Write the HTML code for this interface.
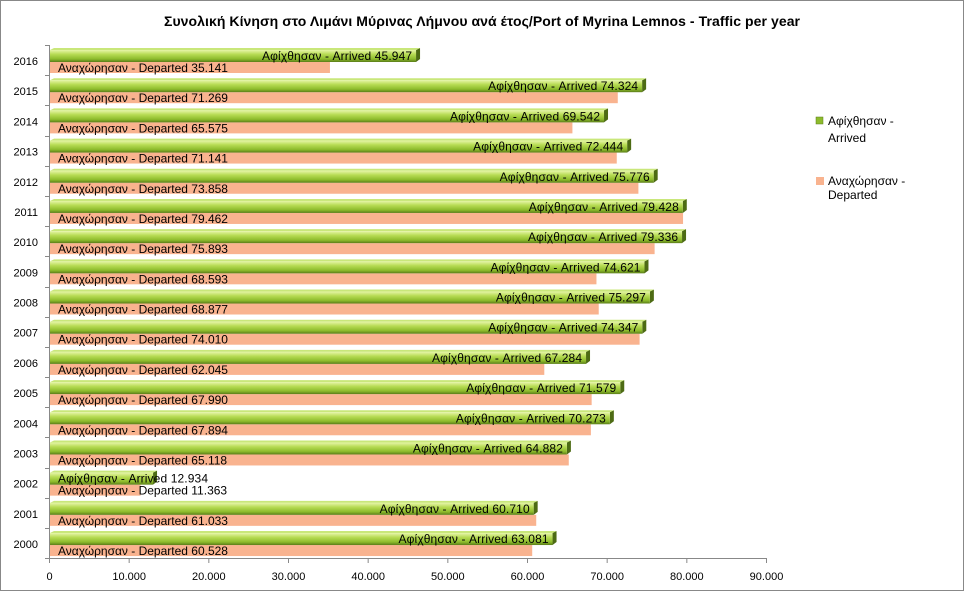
<!DOCTYPE html>
<html><head><meta charset="utf-8"><style>
body{margin:0;background:#fff;}
svg{display:block;font-family:"Liberation Sans","DejaVu Sans",sans-serif;}
</style></head><body>
<svg width="966" height="593" viewBox="0 0 966 593" xmlns="http://www.w3.org/2000/svg">
<defs>
<linearGradient id="g" x1="0" y1="0" x2="0" y2="1">
<stop offset="0" stop-color="#e6f5a8"/><stop offset="0.35" stop-color="#b8dc55"/><stop offset="0.75" stop-color="#8dbb2c"/><stop offset="1" stop-color="#5a7d18"/>
</linearGradient>
</defs>
<rect x="0.5" y="0.5" width="963" height="590" fill="#fff" stroke="#888"/>
<text x="482" y="26" text-anchor="middle" font-size="14" font-weight="bold" fill="#000" textLength="636">Συνολική Κίνηση στο Λιμάνι Μύρινας Λήμνου ανά έτος/Port of Myrina Lemnos - Traffic per year</text>
<g id="bars"></g>
<line x1="49.5" y1="45" x2="49.5" y2="563" stroke="#888"/>
<line x1="45" y1="558.5" x2="766" y2="558.5" stroke="#888"/>
<g id="ticks" font-size="11" fill="#000" text-anchor="middle"></g>
<rect x="816" y="117" width="7" height="7" fill="#8dbb2c" stroke="#5a7d18" stroke-width="0.5"/>
<text x="828" y="125" font-size="12">Αφίχθησαν -</text>
<text x="828" y="142" font-size="12">Arrived</text>
<rect x="816" y="177" width="8" height="8" fill="#f9b38f"/>
<text x="828" y="185" font-size="12">Αναχώρησαν -</text>
<text x="828" y="199" font-size="12">Departed</text>
</svg>
<script>
var data=[[2016,45947,35141],[2015,74324,71269],[2014,69542,65575],[2013,72444,71141],[2012,75776,73858],[2011,79428,79462],[2010,79336,75893],[2009,74621,68593],[2008,75297,68877],[2007,74347,74010],[2006,67284,62045],[2005,71579,67990],[2004,70273,67894],[2003,64882,65118],[2002,12934,11363],[2001,60710,61033],[2000,63081,60528]];
var s=717/90000,x0=50;
function fmt(v){var t=String(v);return t.length>3?t.slice(0,-3)+"."+t.slice(-3):t;}
var h="";
data.forEach(function(d,i){
 var top=45+i*30.19;
 var wa=d[1]*s,wd=d[2]*s;
 h+='<rect x="'+x0+'" y="'+(top+17)+'" width="'+wd+'" height="11" fill="#f9b38f"/>';
 h+='<polygon points="'+(x0+wa)+','+(top+5)+' '+(x0+wa+4)+','+(top+3)+' '+(x0+wa+4)+','+(top+14)+' '+(x0+wa)+','+(top+17)+'" fill="#4d6b14"/>';
 h+='<polygon points="'+x0+','+(top+5)+' '+(x0+4)+','+(top+3)+' '+(x0+wa+4)+','+(top+3)+' '+(x0+wa)+','+(top+5)+'" fill="#c9e77a"/>';
 h+='<rect x="'+x0+'" y="'+(top+5)+'" width="'+wa+'" height="12" fill="url(#g)"/>';
 var lab='Αφίχθησαν - Arrived '+fmt(d[1]);
 if(wa>170) h+='<text x="'+(x0+wa-4)+'" y="'+(top+15)+'" font-size="12" text-anchor="end" textLength="150" fill="#000">'+lab+'</text>';
 else h+='<text x="'+(x0+8)+'" y="'+(top+15)+'" font-size="12" textLength="150" fill="#000">'+lab+'</text>';
 h+='<text x="'+(x0+8)+'" y="'+(top+27)+'" font-size="12" fill="#000">Αναχώρησαν - Departed '+fmt(d[2])+'</text>';
 h+='<text x="38" y="'+(top+20)+'" font-size="11" text-anchor="end" fill="#000">'+d[0]+'</text>';
 h+='<line x1="45" y1="'+(Math.round(top)+0.5)+'" x2="50" y2="'+(Math.round(top)+0.5)+'" stroke="#888"/>';
});
document.getElementById("bars").innerHTML=h;
var t="";
for(var k=0;k<=9;k++){var x=49.5+k*10000*s;t+='<line x1="'+x+'" y1="558" x2="'+x+'" y2="563" stroke="#888"/><text x="'+x+'" y="580">'+(k==0?"0":fmt(k*10000))+'</text>';}
document.getElementById("ticks").innerHTML=t;
</script>
</body></html>
